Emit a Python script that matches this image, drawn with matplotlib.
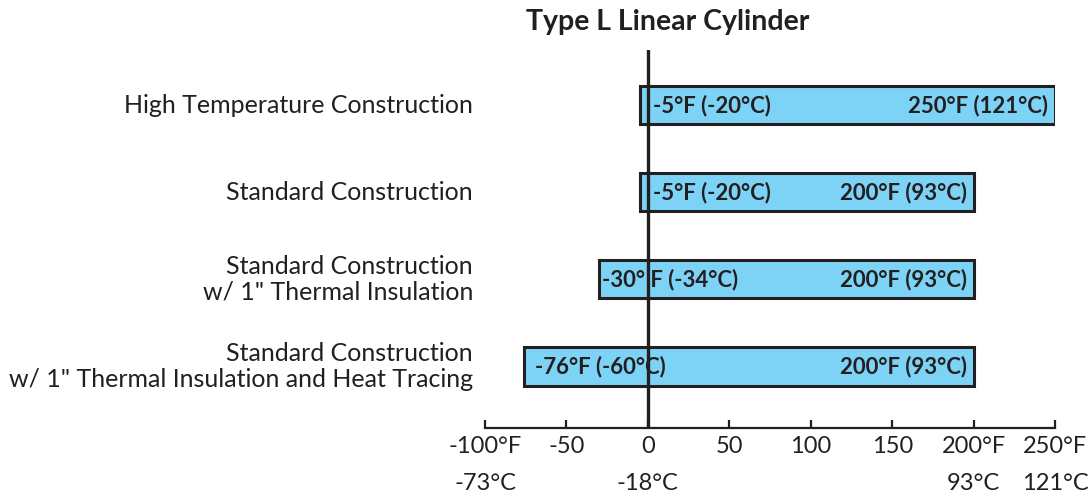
import matplotlib
matplotlib.use("Agg")
import matplotlib.pyplot as plt

categories = [
    "High Temperature Construction",
    "Standard Construction",
    "Standard Construction\nw/ 1\" Thermal Insulation",
    "Standard Construction\nw/ 1\" Thermal Insulation and Heat Tracing",
]
min_f = [-5, -5, -30, -76]
max_f = [250, 200, 200, 200]
min_labels = ["-5°F (-20°C)", "-5°F (-20°C)", "-30° F (-34°C)", "-76°F (-60°C)"]
max_labels = ["250°F (121°C)", "200°F (93°C)", "200°F (93°C)", "200°F (93°C)"]
f_ticks = [-100, -50, 0, 50, 100, 150, 200, 250]
f_tick_labels = ["-100°F", "-50", "0", "50", "100", "150", "200°F", "250°F"]
c_tick_labels = ["-73°C", "", "-18°C", "", "", "", "93°C", "121°C"]
title = "Type L Linear Cylinder"

plt.rcParams['font.family'] = ['Lato', 'DejaVu Sans']
DARK = "#231f20"
BLUE = "#7dd3f5"

W, H = 1090, 498
fig = plt.figure(figsize=(W / 100, H / 100), dpi=100)
ax = fig.add_axes([485 / W, 1 - 428 / H, 570 / W, (428 - 50) / H])

ypos = list(range(len(categories)))
ax.barh(ypos, [b - a for a, b in zip(min_f, max_f)], left=min_f, height=0.44,
        color=BLUE, edgecolor=DARK, linewidth=2.2, zorder=2)
ax.axvline(0, color=DARK, linewidth=2.4, zorder=3)

ax.set_xlim(-100, 250)
ax.set_ylim(3.707, -0.632)

# bar labels
left_offsets_px = [13, 13, 3, 11]
for i in ypos:
    ax.annotate(min_labels[i], xy=(min_f[i], i), xytext=(left_offsets_px[i] * 0.72, 0),
                textcoords="offset points", ha="left", va="center",
                fontsize=16, fontweight="bold", color=DARK, zorder=4)
    ax.annotate(max_labels[i], xy=(max_f[i], i), xytext=(-7 * 0.72, 0),
                textcoords="offset points", ha="right", va="center",
                fontsize=16, fontweight="bold", color=DARK, zorder=4)

# category labels
for i, c in enumerate(categories):
    ax.annotate(c, xy=(-100, i), xytext=(-12 * 0.72, 0), textcoords="offset points",
                ha="right", va="center", fontsize=18, color=DARK,
                linespacing=1.12, annotation_clip=False)

for s in ["top", "right", "left"]:
    ax.spines[s].set_visible(False)
ax.spines["bottom"].set_linewidth(1.6)
ax.spines["bottom"].set_color(DARK)
ax.set_yticks([])
ax.set_xticks(f_ticks)
ax.set_xticklabels([f + ("\n" + c if c else "") for f, c in zip(f_tick_labels, c_tick_labels)],
                   linespacing=1.95)
ax.tick_params(axis="x", direction="in", length=6, width=1.6, color=DARK,
               labelsize=17, labelcolor=DARK, pad=6)

fig.text(668 / W, 1 - 22 / H, title, ha="center", va="center",
         fontsize=20.5, fontweight="bold", color=DARK)

fig.savefig("out.png", dpi=100, facecolor="white")
